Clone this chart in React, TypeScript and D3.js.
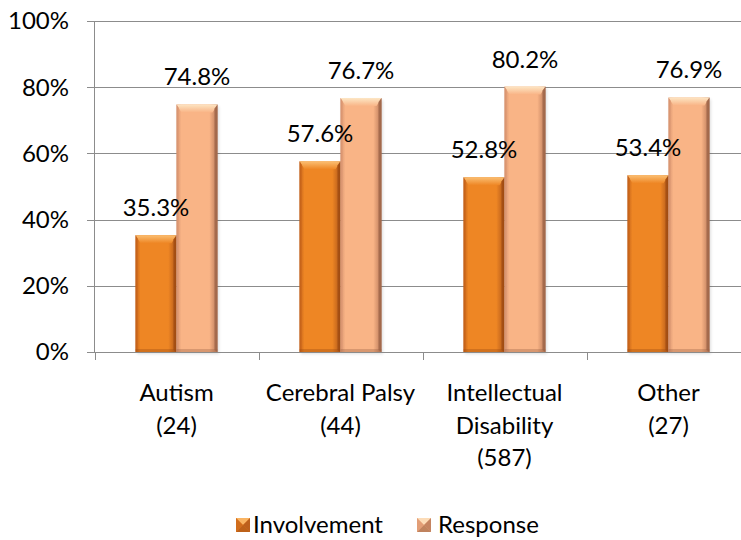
import React from "react";
import * as d3 from "d3";

// Share of respondents by disability group
const categories: string[][] = [
  ["Autism", "(24)"],
  ["Cerebral Palsy", "(44)"],
  ["Intellectual", "Disability", "(587)"],
  ["Other", "(27)"],
];
const involvement = [35.3, 57.6, 52.8, 53.4];
const response = [74.8, 76.7, 80.2, 76.9];
const seriesNames = ["Involvement", "Response"];
const yTicks = [0, 20, 40, 60, 80, 100];

const W = 741;
const H = 540;
const FONT = "Lato, 'Carlito', 'Open Sans', sans-serif";
const FS = 24;

const plotLeft = 94.5;
const plotRight = 750.5;
const plotTop = 21;
const plotBottom = 352;

const x = d3
  .scaleBand<number>()
  .domain(d3.range(categories.length))
  .range([plotLeft, plotRight])
  .paddingInner(0.5)
  .paddingOuter(0.25);
const y = d3.scaleLinear().domain([0, 100]).range([plotBottom, plotTop]);

const palettes = [
  { left: "#c4621a", mid: "#ee8624", right: "#b0561a", top: "#fbbf73", edge: "#9c4a12" },
  { left: "#d89470", mid: "#f9b486", right: "#b87858", top: "#fde6c4", edge: "#9a6245" },
];

function Bar({ x0, w, v, s }: { x0: number; w: number; v: number; s: number }) {
  const yTop = y(v);
  const h = plotBottom - yTop;
  const bev = 5;
  const p = palettes[s];
  return (
    <g>
      <rect x={x0 + 1.5} y={yTop + 2} width={w} height={h} fill="#000" opacity={0.12} filter="url(#soft)" />
      <rect x={x0} y={yTop} width={w} height={h} fill={`url(#grad${s})`} />
      {/* bevelled top face */}
      <path
        d={`M${x0},${yTop} L${x0 + w},${yTop} L${x0 + w - bev},${yTop + bev * 1.6} L${x0 + bev},${yTop + bev * 1.6} Z`}
        fill={`url(#top${s})`}
      />
      {/* bevelled left / right edges */}
      <path d={`M${x0},${yTop} L${x0 + 2},${yTop + 3} L${x0 + 2},${plotBottom - 2} L${x0},${plotBottom} Z`} fill={p.left} opacity={0.7} />
      <path
        d={`M${x0 + w},${yTop} L${x0 + w - 3},${yTop + 4} L${x0 + w - 3},${plotBottom - 2} L${x0 + w},${plotBottom} Z`}
        fill={p.edge}
        opacity={0.75}
      />
      <rect x={x0} y={plotBottom - 3} width={w} height={3} fill={p.edge} opacity={0.35} />
    </g>
  );
}

function LegendIcon({ cx, cy, s }: { cx: number; cy: number; s: number }) {
  const r = 7;
  const p = palettes[s];
  return (
    <g>
      <rect x={cx - r} y={cy - r} width={2 * r} height={2 * r} fill={p.mid} />
      <path d={`M${cx - r},${cy - r} L${cx + r},${cy - r} L${cx},${cy} Z`} fill={p.top} opacity={0.8} />
      <path d={`M${cx + r},${cy - r} L${cx + r},${cy + r} L${cx},${cy} Z`} fill={p.right} opacity={0.8} />
      <path d={`M${cx - r},${cy + r} L${cx + r},${cy + r} L${cx},${cy} Z`} fill={p.edge} opacity={0.6} />
      <path d={`M${cx - r},${cy - r} L${cx - r},${cy + r} L${cx},${cy} Z`} fill={p.left} opacity={0.7} />
    </g>
  );
}

export default function App() {
  const bw = x.bandwidth();
  const series = [involvement, response];
  return (
    <svg
      width={W}
      height={H}
      viewBox={`0 0 ${W} ${H}`}
      style={{ position: "absolute", left: 0, top: 0, background: "#fff" }}
      fontFamily={FONT}
    >
      <defs>
        {palettes.map((p, i) => (
          <linearGradient key={i} id={`grad${i}`} x1="0" x2="1" y1="0" y2="0">
            <stop offset="0" stopColor={p.left} />
            <stop offset="0.12" stopColor={p.mid} />
            <stop offset="0.8" stopColor={p.mid} />
            <stop offset="1" stopColor={p.right} />
          </linearGradient>
        ))}
        {palettes.map((p, i) => (
          <linearGradient key={i} id={`top${i}`} x1="0" x2="0" y1="0" y2="1">
            <stop offset="0" stopColor={p.top} />
            <stop offset="1" stopColor={p.mid} />
          </linearGradient>
        ))}
        <filter id="soft" x="-20%" y="-20%" width="140%" height="140%">
          <feGaussianBlur stdDeviation="1.5" />
        </filter>
      </defs>

      {/* gridlines */}
      {yTicks.map((t) => (
        <line key={t} x1={plotLeft} x2={W} y1={Math.round(y(t)) + 0.5} y2={Math.round(y(t)) + 0.5} stroke="#8c8c8c" strokeWidth={1} />
      ))}
      {/* y axis and ticks */}
      <line x1={plotLeft} x2={plotLeft} y1={plotTop} y2={plotBottom} stroke="#8c8c8c" />
      {yTicks.map((t) => (
        <g key={t}>
          <line x1={87} x2={plotLeft} y1={Math.round(y(t)) + 0.5} y2={Math.round(y(t)) + 0.5} stroke="#8c8c8c" />
          <text x={69} y={y(t)} dy="0.35em" textAnchor="end" fontSize={FS} fill="#000">
            {t}%
          </text>
        </g>
      ))}

      {/* bars */}
      {series.map((vals, s) =>
        vals.map((v, i) => <Bar key={`${s}-${i}`} x0={(x(i) as number) + s * bw / 2} w={bw / 2} v={v} s={s} />)
      )}

      {/* x axis and category ticks */}
      <line x1={87} x2={W} y1={plotBottom + 0.5} y2={plotBottom + 0.5} stroke="#8c8c8c" />
      {d3.range(categories.length + 1).map((i) => {
        const tx = Math.round(plotLeft + (i * (plotRight - plotLeft)) / categories.length) + 0.5;
        return <line key={i} x1={tx} x2={tx} y1={plotBottom} y2={plotBottom + 8} stroke="#8c8c8c" />;
      })}

      {/* value labels */}
      {series.map((vals, s) =>
        vals.map((v, i) => (
          <text
            key={`l${s}-${i}`}
            x={(x(i) as number) + s * bw / 2 + bw / 4}
            y={y(v) - 19}
            textAnchor="middle"
            fontSize={FS}
            fill="#000"
          >
            {v.toFixed(1)}%
          </text>
        ))
      )}

      {/* category labels */}
      {categories.map((lines, i) => (
        <text key={i} x={(x(i) as number) + bw / 2} y={401} textAnchor="middle" fontSize={FS} fill="#000">
          {lines.map((ln, k) => (
            <tspan key={k} x={(x(i) as number) + bw / 2} dy={k === 0 ? 0 : 32.5}>
              {ln}
            </tspan>
          ))}
        </text>
      ))}

      {/* legend */}
      <LegendIcon cx={243} cy={525} s={0} />
      <text x={253} y={533} fontSize={FS} fill="#000">
        {seriesNames[0]}
      </text>
      <LegendIcon cx={424} cy={525} s={1} />
      <text x={438} y={533} fontSize={FS} fill="#000">
        {seriesNames[1]}
      </text>
    </svg>
  );
}
